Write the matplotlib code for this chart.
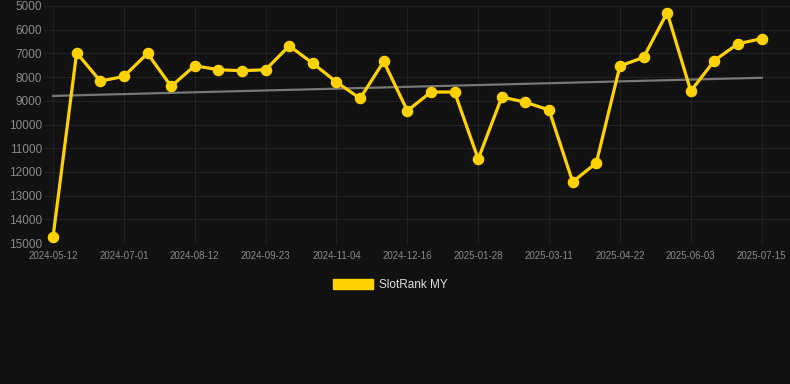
import matplotlib
matplotlib.use("Agg")
import matplotlib.pyplot as plt
import numpy as np
from matplotlib.patches import Patch

plt.rcParams["font.family"] = ["Liberation Sans", "DejaVu Sans"]

labels = ["2024-05-12", "2024-07-01", "2024-08-12", "2024-09-23", "2024-11-04",
          "2024-12-16", "2025-01-28", "2025-03-11", "2025-04-22", "2025-06-03", "2025-07-15"]
ranks = [14750, 6970, 8170, 7970, 7000, 8390, 7520, 7690, 7730, 7690,
         6680, 7420, 8210, 8900, 7340, 9420, 8630, 8630, 11460, 8840,
         9060, 9390, 12420, 11620, 7530, 7170, 5280, 8590, 7300, 6590, 6380]
y_ticks = [5000, 6000, 7000, 8000, 9000, 10000, 11000, 12000, 13000, 14000, 15000]

bg = "#111111"
fig = plt.figure(figsize=(7.9, 3.84), dpi=100, facecolor=bg)
ax = fig.add_axes([45/790, 1-243/384, 1-45/790, 237/384], facecolor=bg)

x = np.arange(len(ranks))
coef = np.polyfit(x, ranks, 1)
trend = np.polyval(coef, x)
ax.plot(x, trend, color="#777777", lw=1.6, zorder=2)
ax.plot(x, ranks, color="#FFD200", lw=2.3, marker="o", markersize=7.3, zorder=3)

step = 3
ax.set_xticks(x[::step])
ax.set_xticklabels(labels)
ax.set_xlim(-0.34, 31.2)
ax.set_ylim(15000, 5000)
ax.set_yticks(y_ticks)
ax.grid(True, color="#222222", lw=0.8)
for s in ax.spines.values():
    s.set_visible(False)
ax.tick_params(axis="x", colors="#8a8a8a", labelsize=7, length=0, pad=6)
ax.tick_params(axis="y", colors="#8a8a8a", labelsize=8.5, length=0, pad=2)

fig.legend(handles=[Patch(color="#FFD200")], labels=["SlotRank MY"],
           loc="center", bbox_to_anchor=(390/790, 1-285/384), frameon=False,
           labelcolor="#dddddd", fontsize=8.5, handlelength=3.4, handleheight=1.0,
           handletextpad=0.5)

fig.savefig("out.png", dpi=100, facecolor=bg)
